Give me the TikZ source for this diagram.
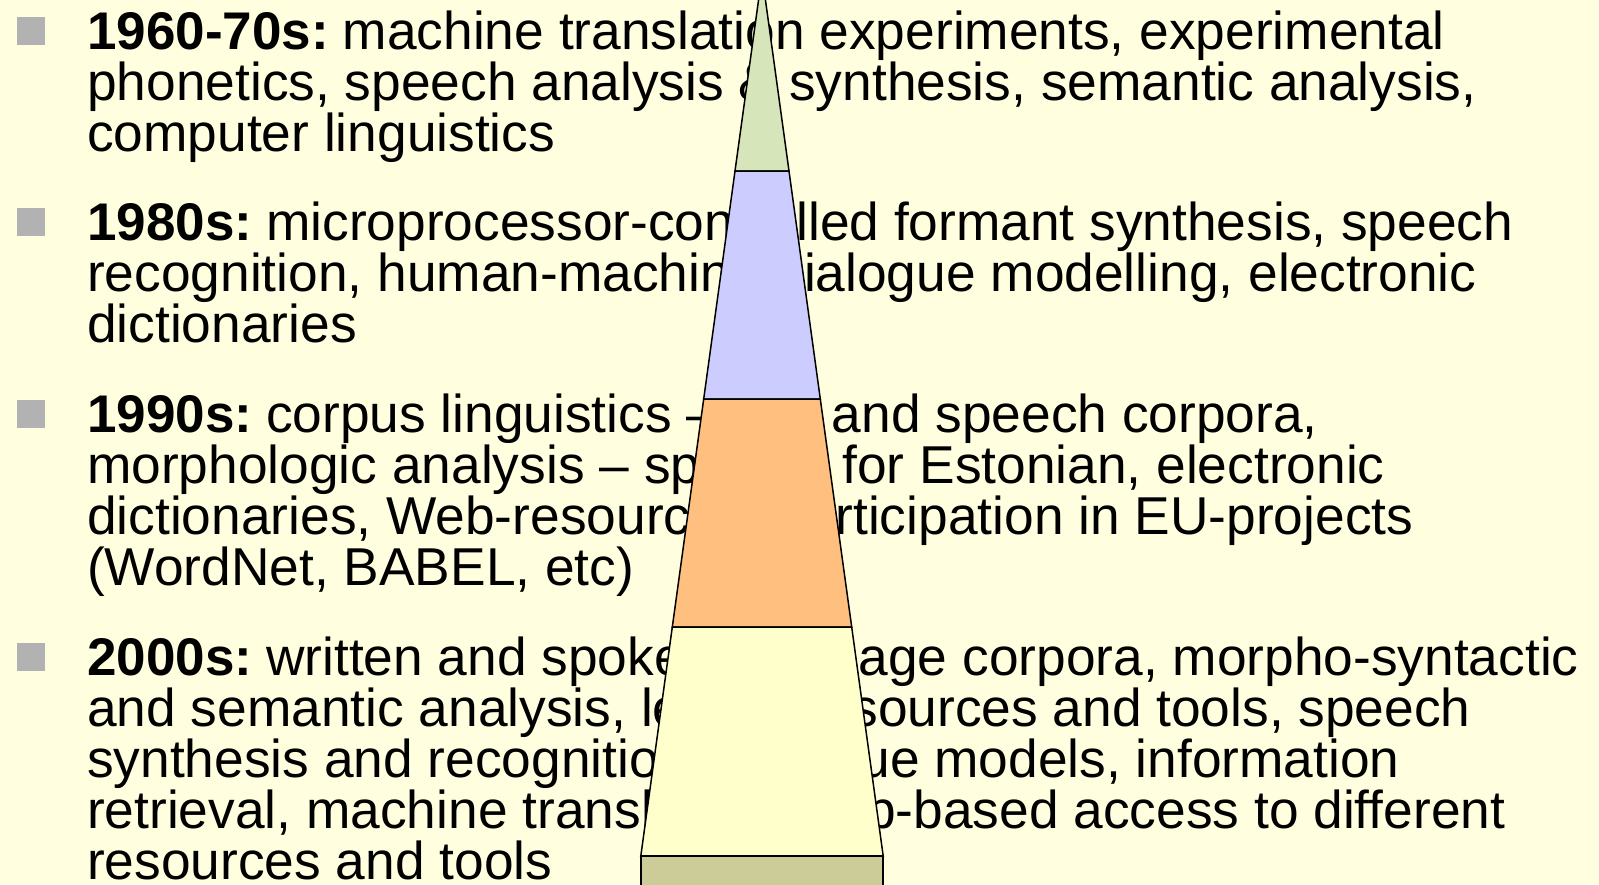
\documentclass[tikz,border=0pt]{standalone}
\usepackage{fontspec}
\setmainfont{Liberation Sans}
\definecolor{bgcol}{HTML}{FFFFE0}
\definecolor{bulletgray}{HTML}{B2B2B2}
\definecolor{segGreen}{HTML}{D7E6BA}
\definecolor{segBlue}{HTML}{CCCCFF}
\definecolor{segOrange}{HTML}{FFBF7F}
\definecolor{segYellow}{HTML}{FFFFCC}
\definecolor{segBase}{HTML}{CCCC99}
\newcommand{\yrlabel}[1]{{\fontsize{53}{53}\selectfont\bfseries #1}\hspace{14pt}}
\begin{document}
\begin{tikzpicture}[x=1pt,y=-1pt,
  txt/.style={anchor=base west, inner sep=0pt, font=\fontsize{53.3}{53}\selectfont},
  bul/.style={fill=bulletgray, draw=none},
  seg/.style={draw=black, line width=1.5pt, line join=miter}]
\useasboundingbox (0,0) rectangle (1599,884);
\clip (0,0) rectangle (1599,884);
\fill[bgcol] (0,0) rectangle (1599,884);
% bullets
\foreach \b in {49,240,432,675} {
  \fill[bul] (17,\b-32) rectangle (45,\b-4);
}
% 1960-70s
\node[txt] (p1a) at (87,49) {\yrlabel{1960-70s:}machine translation experiments, experimental};
\node[txt] (p1b) at (87,100) {phonetics, speech analysis \& synthesis, semantic analysis,};
\node[txt] (p1c) at (87,151) {computer linguistics};
% 1980s
\node[txt] (p2a) at (87,240) {\yrlabel{1980s:}microprocessor-controlled formant synthesis, speech};
\node[txt] (p2b) at (87,291) {recognition, human-machine dialogue modelling, electronic};
\node[txt] (p2c) at (87,342) {dictionaries};
% 1990s
\node[txt] (p3a) at (87,432) {\yrlabel{1990s:}corpus linguistics -- text and speech corpora,};
\node[txt] (p3b) at (87,483) {morphologic analysis -- spellers for Estonian, electronic};
\node[txt] (p3c) at (87,534) {dictionaries, Web-resources, participation in EU-projects};
\node[txt] (p3d) at (87,585) {(WordNet, BABEL, etc)};
% 2000s
\node[txt] (p4a) at (87,675) {\yrlabel{2000s:}written and spoken language corpora, morpho-syntactic};
\node[txt] (p4b) at (87,726) {and semantic analysis, lexical resources and tools, speech};
\node[txt] (p4c) at (87,777) {synthesis and recognition, dialogue models, information};
\node[txt] (p4d) at (87,828) {retrieval, machine translation, web-based access to different};
\node[txt] (p4e) at (87,879) {resources and tools};
% pyramid
\filldraw[seg, fill=segGreen] (762,-25) -- (789,171) -- (735,171) -- cycle;
\filldraw[seg, fill=segBlue] (735,171) -- (789,171) -- (820.3,399) -- (703.7,399) -- cycle;
\filldraw[seg, fill=segOrange] (703.7,399) -- (820.3,399) -- (851.7,627) -- (672.3,627) -- cycle;
\filldraw[seg, fill=segYellow] (672.3,627) -- (851.7,627) -- (883.2,856) -- (640.8,856) -- cycle;
\filldraw[seg, fill=segBase] (640.8,856) rectangle (883.2,900);
\end{tikzpicture}
\end{document}
